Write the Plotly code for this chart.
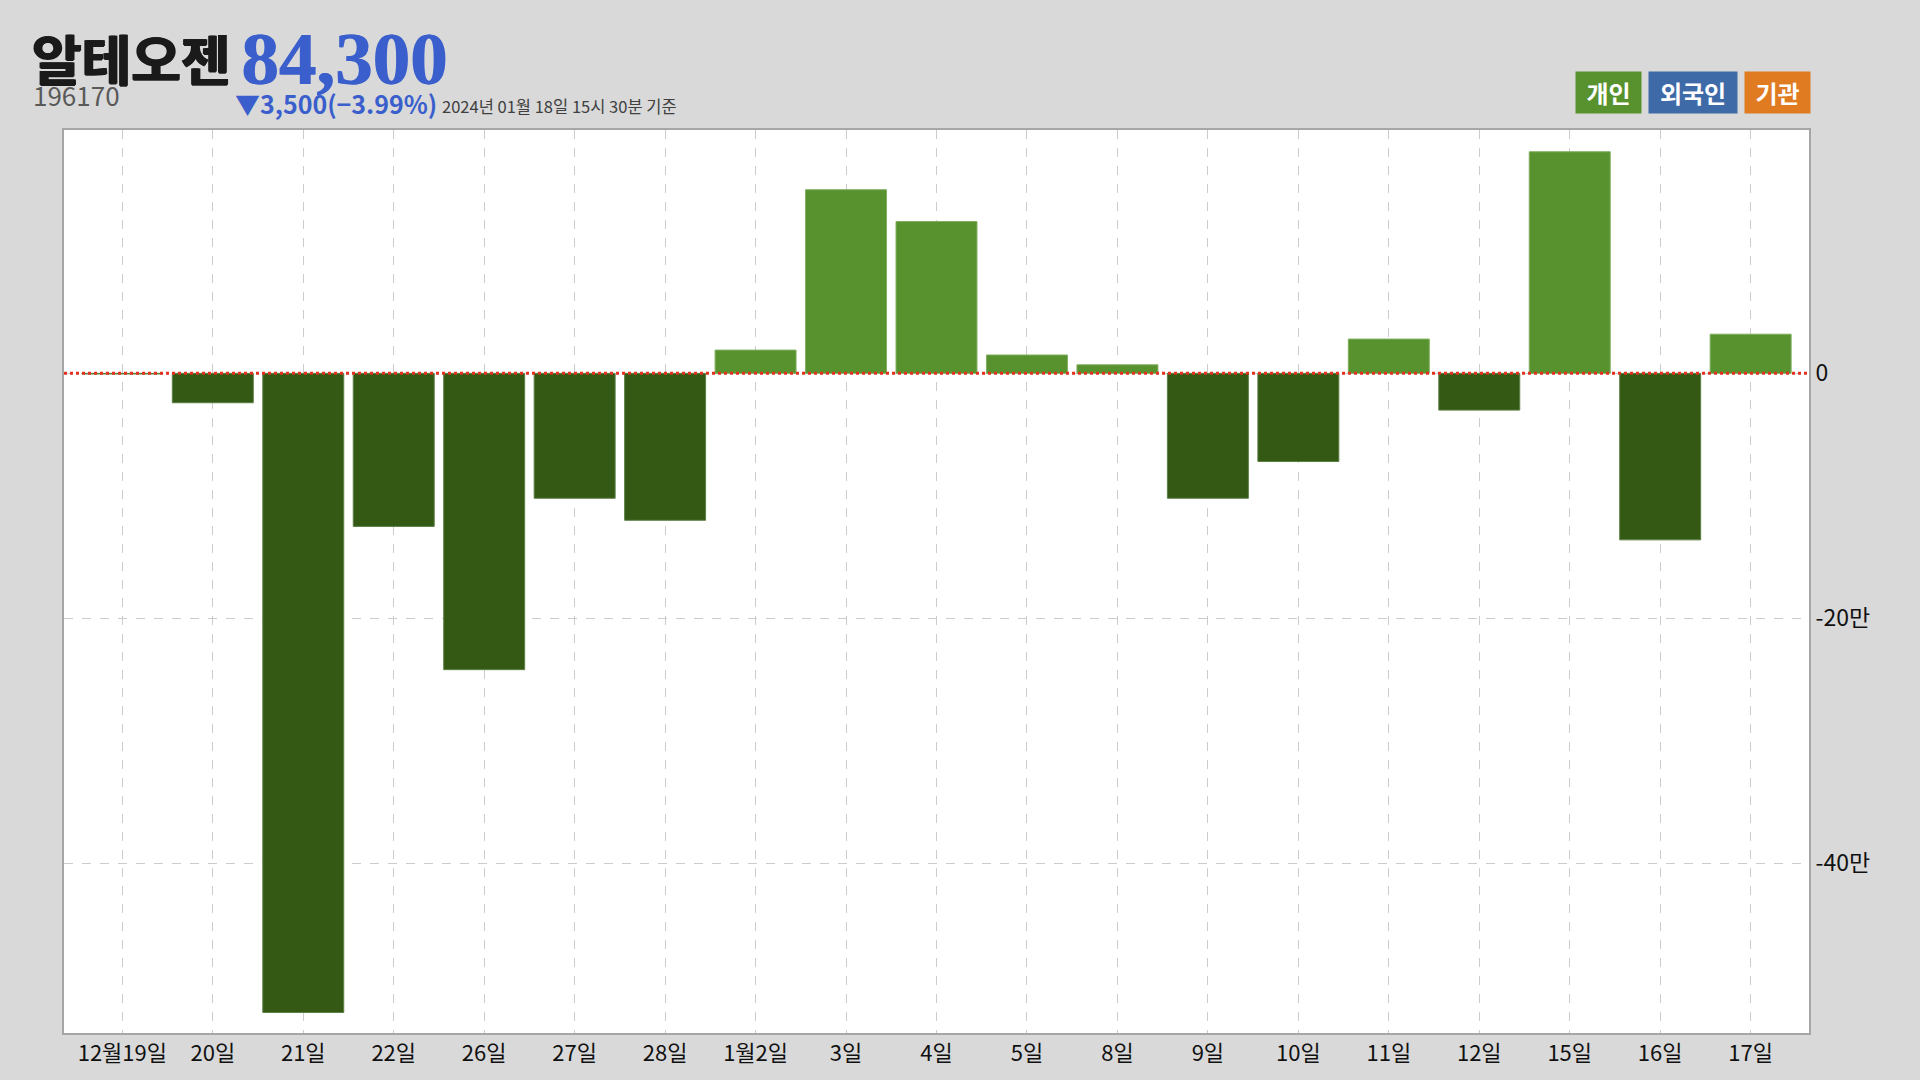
import plotly.graph_objects as go

# ---- data ----
dates = ["12월19일", "20일", "21일", "22일", "26일", "27일", "28일", "1월2일", "3일", "4일",
         "5일", "8일", "9일", "10일", "11일", "12일", "15일", "16일", "17일"]
individual = [-500, -24000, -522000, -125000, -242000, -102000, -120000, 19000, 150000, 124000,
              15000, 7000, -102000, -72000, 28000, -30000, 181000, -136000, 32000]
y_tickvals = [-400000, -200000, 0]
y_ticktext = ["-40만", "-20만", "0"]
legend_items = ["개인", "외국인", "기관"]
legend_colors = ["#58922f", "#3e6aa8", "#e07b22"]

stock_name = "알테오젠"
stock_code = "196170"
price = "84,300"
change = "▼3,500(−3.99%)"
as_of = "2024년 01월 18일 15시 30분 기준"

POS = "#58922f"
NEG = "#335915"
POS_LINE = "#7fae5e"
NEG_LINE = "#5b7f43"

fig = go.Figure()
fig.add_trace(go.Bar(
    x=dates, y=individual,
    marker=dict(color=[POS if v >= 0 else NEG for v in individual],
                line=dict(color=[POS_LINE if v >= 0 else NEG_LINE for v in individual], width=1)),
    width=0.895, showlegend=False, hoverinfo="x+y",
))

fig.add_hline(y=0, line=dict(color="#e0321e", width=3, dash="dot"), layer="above")

FONT = "Noto Sans CJK KR"
fig.update_layout(
    width=1920, height=1080,
    paper_bgcolor="#d9d9d9", plot_bgcolor="#ffffff",
    margin=dict(l=64, r=111, t=130, b=47),
    font=dict(family=FONT, color="#111111", size=22),
    xaxis=dict(
        type="category", range=[-0.645, len(dates) - 1 + 0.645],
        showgrid=True, gridcolor="#cccccc", griddash="dash", gridwidth=1,
        showline=True, linecolor="#a6a6a6", linewidth=2, mirror=True,
        ticks="", tickfont=dict(size=22, family=FONT, color="#111111"),
        fixedrange=True,
    ),
    yaxis=dict(
        side="right", range=[-538775, 198776],
        tickvals=y_tickvals, ticktext=y_ticktext,
        showgrid=True, gridcolor="#cccccc", griddash="dash", gridwidth=1,
        zeroline=False,
        showline=True, linecolor="#a6a6a6", linewidth=2, mirror=True,
        ticks="", tickfont=dict(size=23, family=FONT, color="#111111"),
        fixedrange=True,
    ),
)

ann = []
ann.append(dict(text=f"<b>{stock_name}</b>", x=30, y=1080 - 58, showarrow=False,
                xanchor="left", yanchor="middle",
                font=dict(family=FONT, size=54, color="#1a1a1a",
                          shadow="1px 0px 0px #1a1a1a, -1px 0px 0px #1a1a1a, 0px 1px 0px #1a1a1a")))
ann.append(dict(text=stock_code, x=31, y=1080 - 95, showarrow=False, xanchor="left", yanchor="middle",
                font=dict(family=FONT, size=26, color="#595959")))
ann.append(dict(text=f"<b>{price}</b>", x=239, y=1080 - 59, showarrow=False, xanchor="left", yanchor="middle",
                font=dict(family="Liberation Serif", size=75, color="#3a5fcd",
                          shadow="1px 0px 0px #3a5fcd")))
ann.append(dict(text=f"<b>{change}</b>", x=233, y=1080 - 103, showarrow=False, xanchor="left", yanchor="middle",
                font=dict(family=FONT, size=25, color="#3a5fcd")))
ann.append(dict(text=as_of, x=440, y=1080 - 106, showarrow=False, xanchor="left", yanchor="middle",
                font=dict(family=FONT, size=16.5, color="#404040")))

# legend boxes
lx = [1608.5, 1693, 1777.5]
lw = [57, 80, 57]
for t, c, x, w in zip(legend_items, legend_colors, lx, lw):
    ann.append(dict(text=f"<b>{t}</b>", x=x, y=1080 - 92.5, showarrow=False,
                    xanchor="center", yanchor="middle", bgcolor=c, borderpad=4,
                    width=w, height=33, align="center", valign="middle",
                    font=dict(family=FONT, size=24, color="#ffffff")))

# convert pixel positions to paper coordinates
pw = 1920 - 64 - 111
ph = 1080 - 130 - 47
for a in ann:
    a["xref"] = "paper"
    a["yref"] = "paper"
    a["x"] = (a["x"] - 64) / pw
    a["y"] = (a["y"] - 47) / ph
fig.update_layout(annotations=ann)

fig.write_html("out.html", config={"displayModeBar": False},
               post_script="document.body.style.margin='0';")
